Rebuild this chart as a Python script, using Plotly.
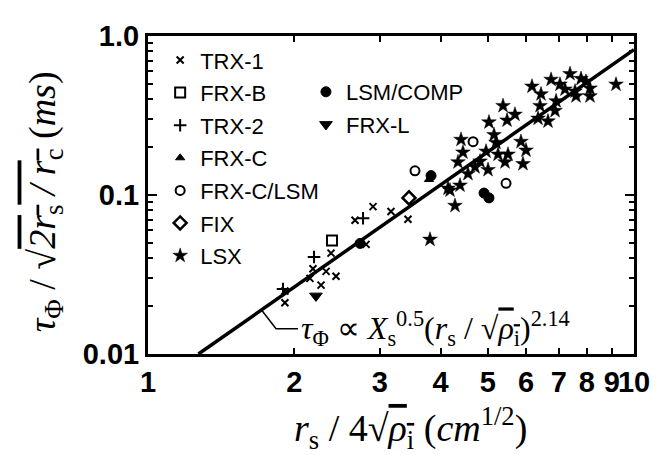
import plotly.graph_objects as go

# ---------------- data ----------------
trx1_x = [1.913, 1.913, 2.154, 2.185, 2.325, 2.437, 2.27, 2.38, 2.81, 2.667, 2.904, 3.162, 3.427]
trx1_y = [0.0210, 0.0249, 0.0299, 0.0344, 0.0331, 0.0308, 0.0271, 0.0431, 0.0489, 0.0694, 0.0845, 0.0788, 0.0704]

frxb_x = [2.391]
frxb_y = [0.0517]

trx2_x = [1.896, 2.196, 2.77]
trx2_y = [0.0256, 0.0407, 0.0714]

frxc_x = [3.786]
frxc_y = [0.1252]

frxc_lsm_x = [3.543, 4.665, 5.454]
frxc_lsm_y = [0.142, 0.2165, 0.1184]

fix_x = [3.444]
fix_y = [0.0959]

lsx_x = [3.804, 7.385, 6.751, 6.167, 6.437, 7.042, 7.211, 7.562, 7.78, 7.965, 8.118, 8.118,
         7.598, 9.183, 6.913, 6.88, 6.407, 6.347, 6.653, 5.377, 5.69, 5.48, 5.03, 4.406,
         5.152, 5.2, 5.854, 5.995, 5.91, 5.505, 5.428, 4.961, 4.822, 5.008, 4.709, 4.554,
         4.344, 4.385, 4.182, 4.282, 5.251, 4.143, 4.447]
lsx_y = [0.0525, 0.578, 0.532, 0.482, 0.431, 0.496, 0.462, 0.449, 0.539, 0.517, 0.469, 0.419,
         0.419, 0.496, 0.390, 0.339, 0.364, 0.303, 0.291, 0.364, 0.321, 0.295, 0.287, 0.223,
         0.239, 0.2135, 0.2165, 0.191, 0.157, 0.180, 0.161, 0.188, 0.163, 0.144, 0.150, 0.136,
         0.161, 0.115, 0.107, 0.0857, 0.180, 0.110, 0.1855]

lsm_comp_x = [2.731, 3.823, 4.914, 5.03]
lsm_comp_y = [0.0496, 0.1324, 0.1028, 0.0959]

frxl_x = [2.216]
frxl_y = [0.0232]

# power-law fit  tau ~ x^2.14 (end points)
fit_x = [1.27, 10.0]
fit_y = [0.01, 0.82]

# leader line from the fit line to its label
leader_x = [1.708, 1.834, 2.035]
leader_y = [0.0191, 0.0144, 0.0144]

x_tick_vals = [1, 2, 3, 4, 5, 6, 7, 8, 9, 10]
x_tick_text = ["1", "2", "3", "4", "5", "6", "7", "8", "9", "10"]
y_tick_vals = [0.01, 0.1, 1.0]
y_tick_text = ["0.01", "0.1", "1.0"]
y_minor_vals = [0.02, 0.03, 0.04, 0.05, 0.06, 0.07, 0.08, 0.09,
                0.2, 0.3, 0.4, 0.5, 0.6, 0.7, 0.8, 0.9]

# ---------------- figure ----------------
fig = go.Figure()

fig.add_trace(go.Scatter(x=fit_x, y=fit_y, mode="lines", line=dict(color="black", width=3.5),
                         showlegend=False, hoverinfo="skip"))
fig.add_trace(go.Scatter(x=leader_x, y=leader_y, mode="lines", line=dict(color="black", width=1.5),
                         showlegend=False, hoverinfo="skip"))

def add(name, x, y, symbol, size, legend, group, lw=2):
    fig.add_trace(go.Scatter(
        x=x, y=y, mode="markers", name=name, legend=legend, legendgroup=group,
        marker=dict(symbol=symbol, size=size, color="black",
                    line=dict(color="black", width=lw)),
    ))

add("TRX-1", trx1_x, trx1_y, "x-thin", 7, "legend", "g1", 2)
add("FRX-B", frxb_x, frxb_y, "square-open", 10, "legend", "g2", 2)
add("TRX-2", trx2_x, trx2_y, "cross-thin", 9, "legend", "g3", 2)
add("FRX-C", frxc_x, frxc_y, "triangle-up", 8, "legend", "g4", 1)
add("FRX-C/LSM", frxc_lsm_x, frxc_lsm_y, "circle-open", 9, "legend", "g5", 2)
add("FIX", fix_x, fix_y, "diamond-open", 10, "legend", "g6", 2.5)
add("LSX", lsx_x, lsx_y, "star", 11, "legend", "g7", 0.5)
add("LSM/COMP", lsm_comp_x, lsm_comp_y, "circle", 10, "legend2", "g8", 1)
add("FRX-L", frxl_x, frxl_y, "triangle-down", 11, "legend2", "g9", 1)

tick_font = dict(family="Liberation Sans, Arial, sans-serif", size=29, color="black",
                 weight="bold")
serif = "Liberation Serif, Times New Roman, serif"
nb = "\u00a0"

fig.update_xaxes(type="log", range=[0, 1], tickvals=x_tick_vals, ticktext=x_tick_text,
                 tickangle=0,
                 ticks="inside", ticklen=6, tickwidth=2, tickcolor="black",
                 showline=True, linewidth=3, linecolor="black", mirror="ticks",
                 showgrid=False, zeroline=False, tickfont=tick_font)
fig.update_yaxes(type="log", range=[-2, 0], tickvals=y_tick_vals, ticktext=y_tick_text,
                 ticks="inside", ticklen=9, tickwidth=2, tickcolor="black",
                 minor=dict(tickvals=y_minor_vals, ticks="inside", ticklen=5, tickwidth=2,
                            tickcolor="black", showgrid=False),
                 showline=True, linewidth=3, linecolor="black", mirror="ticks",
                 showgrid=False, zeroline=False, tickfont=tick_font)

legend_font = dict(family="Liberation Sans, Arial, sans-serif", size=22, color="black")
fig.update_layout(
    width=669, height=455,
    margin=dict(l=140, r=43, t=18, b=109),
    paper_bgcolor="white", plot_bgcolor="white",
    legend=dict(x=0.025, y=0.99, xanchor="left", yanchor="top", font=legend_font,
                bgcolor="rgba(0,0,0,0)", tracegroupgap=1, itemsizing="trace",
                maxheight=420),
    legend2=dict(x=0.325, y=0.89, xanchor="left", yanchor="top", font=legend_font,
                 bgcolor="rgba(0,0,0,0)", tracegroupgap=1, itemsizing="trace",
                 maxheight=200),
    annotations=[
        dict(xref="paper", yref="paper", x=0.31, y=0.08, xanchor="left", yanchor="middle",
             showarrow=False, font=dict(family=serif, size=32, color="black"),
             text="<i>τ</i><sub>Φ</sub> ∝ <i>X</i><sub>s</sub><sup>0.5</sup>(<i>r</i><sub>s</sub> / "
                  "√<span style='text-decoration:overline'><i>ρ</i><sub>i</sub></span>)<sup>2.14</sup>"),
        dict(xref="paper", yref="paper", x=-0.212, y=0.48, xanchor="center", yanchor="middle",
             textangle=-90, showarrow=False, font=dict(family=serif, size=38, color="black"),
             text="<i>τ</i><sub>Φ</sub> / √<span style='text-decoration:overline'><i>2r</i><sub>s</sub>"
                  "<i> / r</i><sub>c</sub></span> (<i>ms</i>)"),
        dict(xref="paper", yref="paper", x=0.54, y=-0.232, xanchor="center", yanchor="middle",
             showarrow=False, font=dict(family=serif, size=38, color="black"),
             text="<i>r</i><sub>s</sub>" + nb + "/" + nb + "4√<span style='text-decoration:overline'><i>ρ</i><sub>i</sub></span>"
                  + nb + "(<i>cm</i><sup>1/2</sup>)"),
    ],
)

fig.write_html("out.html")
